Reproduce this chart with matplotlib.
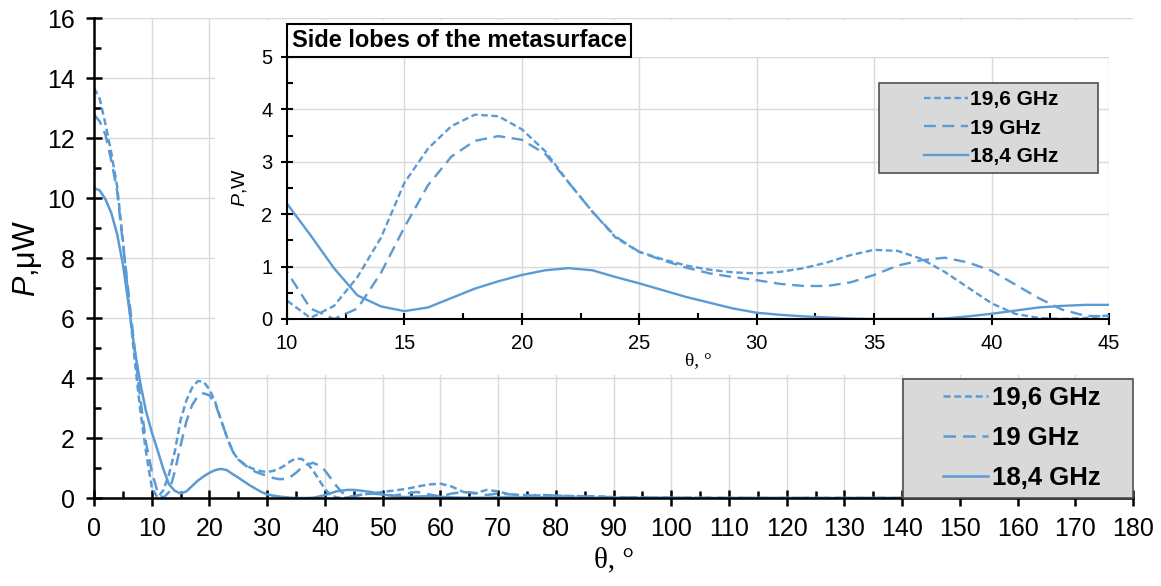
import matplotlib
matplotlib.use('Agg')
from matplotlib import pyplot as plt
from matplotlib.patches import Rectangle
from matplotlib.ticker import MultipleLocator

plt.rcParams['font.family'] = 'Liberation Sans'
plt.rcParams['mathtext.fontset'] = 'custom'
plt.rcParams['mathtext.it'] = 'Liberation Sans:italic'
plt.rcParams['mathtext.rm'] = 'Liberation Sans'

# angle grid of the read-off points, degrees
theta = list(range(0, 46)) + list(range(46, 91, 2)) + list(range(100, 181, 10))

# 19,6 GHz
p196 = [13.67, 13.3, 12.45, 11.5, 10.4, 8.6, 6.6, 4.7, 2.95, 1.55,
        0.35, 0.02, 0.25, 0.8, 1.55, 2.6, 3.25, 3.68, 3.9, 3.87,
        3.62, 3.2, 2.6, 2.05, 1.55, 1.28, 1.14, 1.02, 0.94, 0.89,
        0.87, 0.9, 0.97, 1.08, 1.22, 1.32, 1.3, 1.15, 0.9, 0.6,
        0.3, 0.1, 0.02, 0.0, 0.02, 0.07,
        0.1, 0.15, 0.2, 0.25, 0.3, 0.38, 0.45, 0.48, 0.38, 0.2,
        0.15, 0.27, 0.22, 0.12, 0.1, 0.1, 0.07, 0.08, 0.07, 0.06,
        0.06, 0.05, 0.03,
        0.01, 0, 0, 0, 0, 0, 0, 0, 0]

# 19 GHz
p19 = [12.78, 12.55, 12.1, 11.25, 10.25, 8.5, 6.8, 5.05, 3.35, 1.85,
       0.9, 0.2, 0.0, 0.2, 0.88, 1.75, 2.55, 3.1, 3.4, 3.49,
       3.42, 3.15, 2.6, 2.05, 1.57, 1.28, 1.12, 0.98, 0.87, 0.8,
       0.74, 0.67, 0.63, 0.63, 0.7, 0.84, 1.02, 1.12, 1.17, 1.08,
       0.92, 0.66, 0.4, 0.18, 0.06, 0.05,
       0.1, 0.15, 0.12, 0.08, 0.15, 0.2, 0.12, 0.05, 0.15, 0.2,
       0.17, 0.1, 0.15, 0.12, 0.1, 0.08, 0.1, 0.08, 0.06, 0.05,
       0.05, 0.04, 0.02,
       0.01, 0, 0, 0, 0, 0, 0, 0, 0]

# 18,4 GHz
p184 = [10.33, 10.25, 9.95, 9.5, 8.8, 7.8, 6.45, 5.0, 3.85, 2.9,
        2.2, 1.6, 0.97, 0.45, 0.24, 0.15, 0.22, 0.4, 0.58, 0.72,
        0.84, 0.93, 0.97, 0.93, 0.8, 0.68, 0.55, 0.42, 0.31, 0.2,
        0.12, 0.08, 0.05, 0.03, 0.01, 0.0, 0.0, 0.0, 0.01, 0.05,
        0.1, 0.16, 0.22, 0.25, 0.27, 0.27,
        0.25, 0.2, 0.12, 0.06, 0.03, 0.05, 0.06, 0.04, 0.02, 0.01,
        0.01, 0.01, 0.02, 0.02, 0.02, 0.02, 0.02, 0.02, 0.01, 0.01,
        0.01, 0.01, 0.01,
        0, 0, 0, 0, 0, 0, 0, 0, 0]

labels = ['19,6 GHz', '19 GHz', '18,4 GHz']
blue = '#5b9bd5'
grid_c = '#d9d9d9'


def draw_lines(a, lw):
    a.plot(theta, p196, color=blue, lw=lw, ls=(0, (2.8, 1.5)), label=labels[0])
    a.plot(theta, p19, color=blue, lw=lw, ls=(0, (5, 2.8)), label=labels[1])
    a.plot(theta, p184, color=blue, lw=lw, ls='-', label=labels[2])


def style_axes(a, spine_w, major_len, minor_len, lsize, pad):
    a.grid(True, which='major', color=grid_c, lw=1)
    a.set_axisbelow(True)
    for s in ['top', 'right']:
        a.spines[s].set_visible(False)
    for s in ['left', 'bottom']:
        a.spines[s].set_linewidth(spine_w)
        a.spines[s].set_color('black')
    a.tick_params(which='major', direction='inout', length=major_len,
                  width=spine_w, labelsize=lsize, pad=pad)
    a.tick_params(which='minor', direction='in', length=minor_len, width=spine_w)


fig = plt.figure(figsize=(11.61, 5.86), dpi=100)

# main plot
ax = fig.add_axes([94/1161, 1 - 498/586, 1039/1161, 480/586])
draw_lines(ax, 1.8)
ax.set_xlim(0, 180)
ax.set_ylim(0, 16)
ax.xaxis.set_major_locator(MultipleLocator(10))
ax.xaxis.set_minor_locator(MultipleLocator(5))
ax.yaxis.set_major_locator(MultipleLocator(2))
ax.yaxis.set_minor_locator(MultipleLocator(1))
style_axes(ax, 1.8, 12, 5, 18, 8)
ax.set_xlabel('θ, °', family='Liberation Serif', fontsize=21, labelpad=4)
ax.set_ylabel(r'$\mathit{P}$,μW', fontsize=22, labelpad=2)

ax.add_patch(Rectangle((0.7786, 0), 0.2214, 0.248, transform=ax.transAxes,
                       facecolor='#d9d9d9', edgecolor='#505050', lw=1.2,
                       zorder=4, clip_on=False))
ax.legend(frameon=False, loc='center', bbox_to_anchor=(0.893, 0.125),
          prop={'weight': 'bold', 'size': 18.5}, handlelength=1.75,
          handletextpad=0.15, labelspacing=0.62, borderpad=0)

# white backing for the inset
fig.add_artist(Rectangle((215/1161, 1 - 375/586), 930/1161, 355/586,
                         transform=fig.transFigure, facecolor='white',
                         edgecolor='none', zorder=2))

# inset: side lobes
ax_in = fig.add_axes([287/1161, 1 - 319/586, 822/1161, 262/586], zorder=3)
draw_lines(ax_in, 1.7)
ax_in.set_xlim(10, 45)
ax_in.set_ylim(0, 5)
ax_in.xaxis.set_major_locator(MultipleLocator(5))
ax_in.xaxis.set_minor_locator(MultipleLocator(2.5))
ax_in.yaxis.set_major_locator(MultipleLocator(1))
ax_in.yaxis.set_minor_locator(MultipleLocator(0.5))
style_axes(ax_in, 1.5, 9, 4, 14.5, 6)
ax_in.set_xlabel('θ, °', family='Liberation Serif', fontsize=14, labelpad=0)
ax_in.set_ylabel(r'$\mathit{P}$,W', fontsize=14, labelpad=9)

ax_in.add_patch(Rectangle((0, 1), 0.4185, 0.126, transform=ax_in.transAxes,
                          facecolor='white', edgecolor='black', lw=1.5,
                          zorder=6, clip_on=False))
ax_in.text(0.006, 1.063, 'Side lobes of the metasurface', transform=ax_in.transAxes,
           fontsize=17, fontweight='bold', va='center', ha='left', zorder=7)

ax_in.add_patch(Rectangle((0.720, 0.557), 0.2666, 0.344, transform=ax_in.transAxes,
                          facecolor='#d9d9d9', edgecolor='#505050', lw=1.2,
                          zorder=4))
ax_in.legend(frameon=False, loc='center', bbox_to_anchor=(0.857, 0.729),
             prop={'weight': 'bold', 'size': 15}, handlelength=2.1,
             handletextpad=0.1, labelspacing=0.45, borderpad=0)

fig.savefig('out.png', dpi=100)
